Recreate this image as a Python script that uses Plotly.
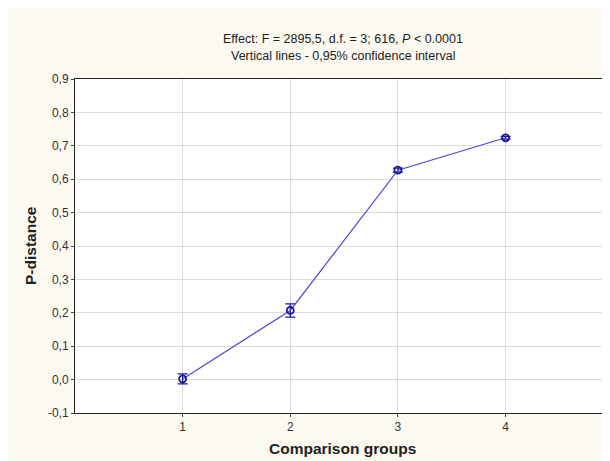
import plotly.graph_objects as go

groups = [1, 2, 3, 4]
p_distance = [0.002, 0.207, 0.627, 0.724]
ci_half = [0.015, 0.02, 0.006, 0.004]

y_tick_vals = [-0.1, 0.0, 0.1, 0.2, 0.3, 0.4, 0.5, 0.6, 0.7, 0.8, 0.9]
y_tick_text = ["-0,1", "0,0", "0,1", "0,2", "0,3", "0,4", "0,5", "0,6", "0,7", "0,8", "0,9"]
x_tick_vals = [1, 2, 3, 4]
x_tick_text = ["1", "2", "3", "4"]

title_line1 = "Effect: F = 2895,5, d.f. = 3; 616, <i>P</i> < 0.0001"
title_line2 = "Vertical lines - 0,95% confidence interval"

font_family = "Liberation Sans, Arial, sans-serif"

fig = go.Figure()
fig.add_trace(go.Scatter(
    x=groups, y=p_distance,
    mode="lines+markers",
    line=dict(color="#4a4ad6", width=1.2),
    marker=dict(symbol="circle-open", size=7, color="#1a1aa0", line=dict(width=1.8)),
    error_y=dict(type="data", array=ci_half, visible=True, color="#1a1a90", thickness=1.3, width=5),
    showlegend=False,
))

fig.update_layout(
    width=602, height=453,
    paper_bgcolor="#fcf9f0",
    plot_bgcolor="#ffffff",
    margin=dict(l=67, r=0, t=71, b=48),
    font=dict(family=font_family, size=12, color="#222222"),
    xaxis=dict(
        range=[0, 4.97], tickvals=x_tick_vals, ticktext=x_tick_text,
        showgrid=True, gridcolor="#dcdcdc", gridwidth=1, zeroline=False,
        showline=True, linecolor="#222222", linewidth=1, mirror=True,
        ticks="outside", ticklen=3, tickcolor="#444444",
        tickfont=dict(size=12, color="#333333"),
    ),
    yaxis=dict(
        range=[-0.1, 0.9], tickvals=y_tick_vals, ticktext=y_tick_text,
        showgrid=True, gridcolor="#dcdcdc", gridwidth=1, zeroline=False,
        showline=True, linecolor="#222222", linewidth=1, mirror=True,
        ticks="outside", ticklen=3, tickcolor="#444444",
        tickfont=dict(size=12, color="#333333"),
    ),
    annotations=[
        dict(text=title_line1, x=0.5, y=1, xref="paper", yref="paper",
             xanchor="center", yanchor="middle", yshift=40, showarrow=False,
             font=dict(size=12.5, color="#222222")),
        dict(text=title_line2, x=0.5, y=1, xref="paper", yref="paper",
             xanchor="center", yanchor="middle", yshift=23, showarrow=False,
             font=dict(size=12.5, color="#222222")),
        dict(text="<b>P-distance</b>", x=0, y=0.5, xref="paper", yref="paper",
             xanchor="center", yanchor="middle", xshift=-45, textangle=-90,
             showarrow=False, font=dict(size=15.5, color="#222222")),
        dict(text="<b>Comparison groups</b>", x=0.5, y=0, xref="paper", yref="paper",
             xanchor="center", yanchor="middle", yshift=-35,
             showarrow=False, font=dict(size=15.5, color="#222222")),
    ],
)

fig.write_html("out.html")
